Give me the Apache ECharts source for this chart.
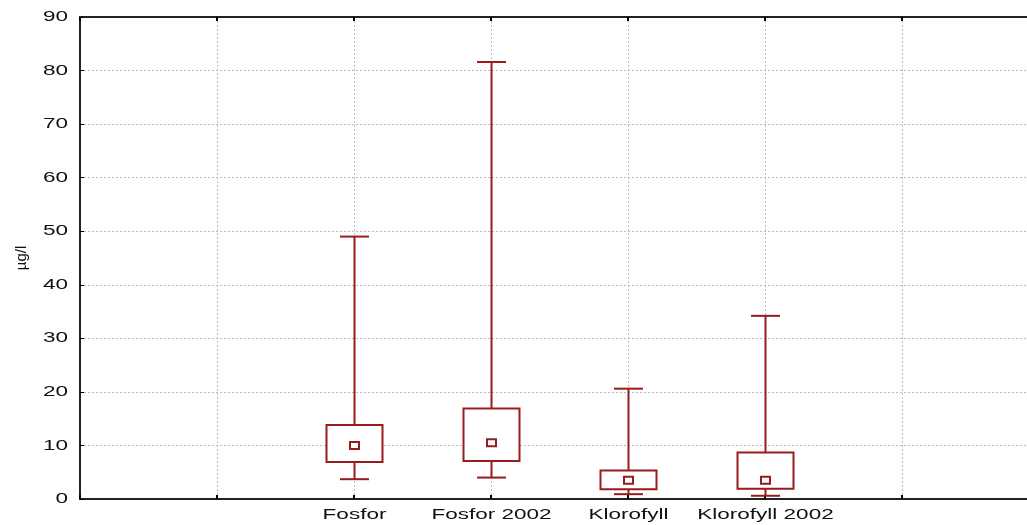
<!DOCTYPE html>
<html>
<head>
<meta charset="utf-8">
<script src="https://cdn.jsdelivr.net/npm/echarts@6/dist/echarts.min.js"></script>
<style>
  html, body { margin: 0; padding: 0; background: #fff; }
  #chart { width: 1027px; height: 525px; }
</style>
</head>
<body>
<div id="chart"></div>
<script>
// categories sit at slots 2..5 of a 0..7 x range
const categories = ['Fosfor', 'Fosfor 2002', 'Klorofyll', 'Klorofyll 2002']
const slots = [2, 3, 4, 5]
const mins = [3.7, 4.0, 0.9, 0.6]
const q1s = [6.9, 7.1, 1.8, 1.9]
const centers = [10.0, 10.5, 3.5, 3.5]
const q3s = [13.8, 16.9, 5.3, 8.7]
const maxs = [49.0, 81.6, 20.6, 34.2]
const yTicks = [0, 10, 20, 30, 40, 50, 60, 70, 80, 90]

const boxColor = '#9a1b1b'
const font = 'Liberation Sans, Arial, sans-serif'
// the original labels are drawn stretched sideways
const stretch = 1.5

const data = categories.map((c, i) => [slots[i], mins[i], q1s[i], centers[i], q3s[i], maxs[i]])

const renderBox = (params, api) => {
  const x = api.value(0)
  const pMin = api.coord([x, api.value(1)])
  const pQ1 = api.coord([x, api.value(2)])
  const pMid = api.coord([x, api.value(3)])
  const pQ3 = api.coord([x, api.value(4)])
  const pMax = api.coord([x, api.value(5)])
  const pBase = api.coord([x, 0])
  const cx = Math.round(pMid[0]) + 0.5
  const boxW = 56, capW = 29, mW = 9, mH = 7
  const style = {stroke: boxColor, lineWidth: 2, fill: null}
  return {
    type: 'group',
    children: [
      {type: 'line', shape: {x1: cx, y1: pMax[1], x2: cx, y2: pQ3[1]}, style},
      {type: 'line', shape: {x1: cx, y1: pQ1[1], x2: cx, y2: pMin[1]}, style},
      {type: 'line', shape: {x1: cx - capW / 2, y1: pMax[1], x2: cx + capW / 2, y2: pMax[1]}, style},
      {type: 'line', shape: {x1: cx - capW / 2, y1: pMin[1], x2: cx + capW / 2, y2: pMin[1]}, style},
      {type: 'rect', shape: {x: cx - boxW / 2, y: pQ3[1], width: boxW, height: pQ1[1] - pQ3[1]}, style: {stroke: boxColor, lineWidth: 2, fill: '#fff'}},
      {type: 'rect', shape: {x: cx - mW / 2, y: pMid[1] - mH / 2, width: mW, height: mH}, style: {stroke: boxColor, lineWidth: 2, fill: '#fff'}},
      {
        type: 'text', x: cx, y: pBase[1] + 8, scaleX: stretch,
        style: {text: categories[params.dataIndex], fill: '#111', font: '15px ' + font, align: 'center', verticalAlign: 'top'}
      }
    ]
  }
}

const renderYLabel = (params, api) => {
  const p = api.coord([0, api.value(1)])
  return {
    type: 'text', x: p[0] - 12, y: p[1], scaleX: stretch,
    style: {text: String(api.value(1)), fill: '#111', font: '15px ' + font, align: 'right', verticalAlign: 'middle'}
  }
}

const chart = echarts.init(document.getElementById('chart'))
chart.setOption({
  animation: false,
  backgroundColor: '#fff',
  grid: {left: 80, top: 17, width: 959, height: 482, containLabel: false, outerBoundsMode: 'none'},
  xAxis: [
    {
      type: 'value', min: 0, max: 7, interval: 1, position: 'bottom',
      axisLine: {show: true, onZero: false, lineStyle: {color: '#222', width: 2}},
      axisTick: {show: true, inside: true, length: 4, lineStyle: {color: '#000', width: 2}},
      axisLabel: {show: false},
      splitLine: {show: true, lineStyle: {color: '#bbb', type: [2, 2], width: 1}}
    },
    {
      type: 'value', min: 0, max: 7, interval: 1, position: 'top',
      axisLine: {show: true, onZero: false, lineStyle: {color: '#222', width: 2}},
      axisTick: {show: true, inside: true, length: 4, lineStyle: {color: '#000', width: 2}},
      axisLabel: {show: false},
      splitLine: {show: false}
    }
  ],
  yAxis: {
    type: 'value', min: 0, max: 90, interval: 10,
    name: 'µg/l', nameLocation: 'middle', nameRotate: 90, nameGap: 51,
    nameTextStyle: {color: '#111', fontFamily: font, fontSize: 15},
    axisLine: {show: true, lineStyle: {color: '#222', width: 2}},
    axisTick: {show: true, inside: true, length: 4, lineStyle: {color: '#000', width: 1}},
    axisLabel: {show: false},
    splitLine: {show: true, lineStyle: {color: '#bbb', type: [2, 2], width: 1}}
  },
  series: [
    {
      type: 'custom',
      renderItem: renderBox,
      encode: {x: 0, y: [1, 2, 3, 4, 5]},
      data: data,
      clip: false
    },
    {
      type: 'custom',
      renderItem: renderYLabel,
      encode: {x: 0, y: 1},
      data: yTicks.map(v => [0, v]),
      clip: false,
      silent: true
    }
  ]
})
</script>
</body>
</html>
